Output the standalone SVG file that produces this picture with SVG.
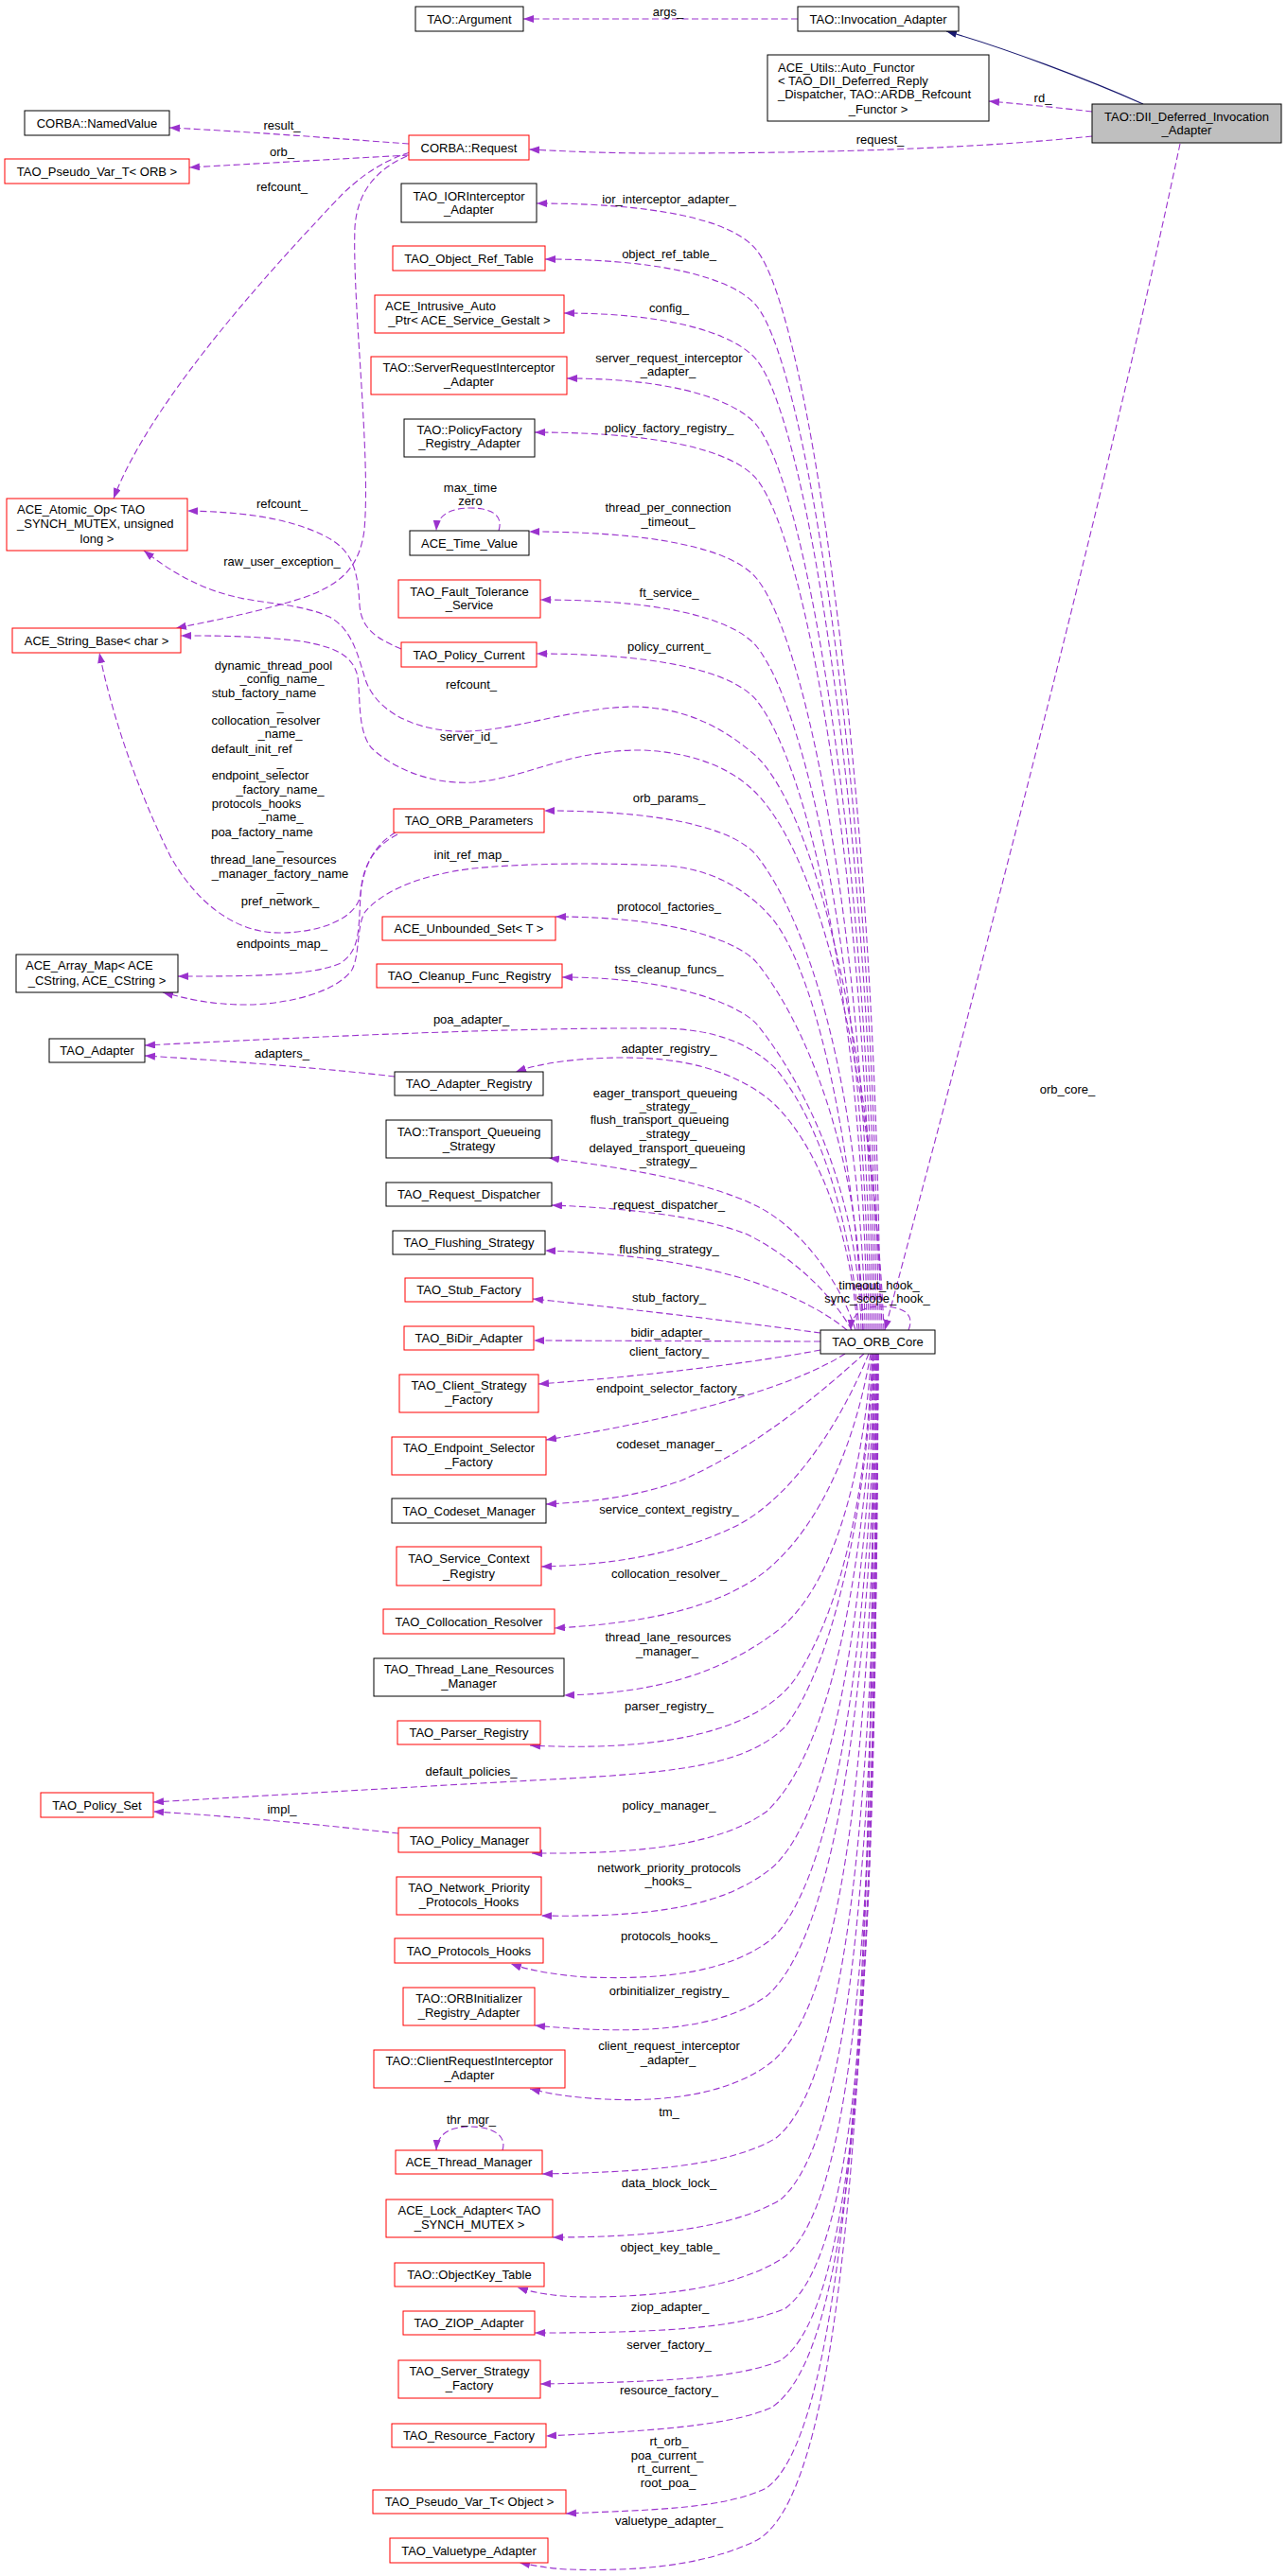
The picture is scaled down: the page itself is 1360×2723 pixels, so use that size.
<svg xmlns="http://www.w3.org/2000/svg" width="1360" height="2723" viewBox="0 0 1360 2723">
<style>
text{font-family:"Liberation Sans",Arial,Helvetica,sans-serif;font-size:13px;fill:#000}
.m{text-anchor:middle}
.k{fill:#fff;stroke:#000;stroke-width:1}
.r{fill:#fff;stroke:#f00;stroke-width:1}
.g{fill:#bfbfbf;stroke:#000;stroke-width:1}
#edges path{fill:none;stroke:#9a32cd;stroke-width:1.1;stroke-dasharray:7,3.5;marker-end:url(#a)}
#edges path.inh{stroke:#191970;stroke-dasharray:none;marker-end:url(#i)}
</style>
<defs>
<marker id="a" markerUnits="userSpaceOnUse" markerWidth="12" markerHeight="9" refX="11" refY="4" orient="auto"><path d="M0,0 L11,4 L0,8 z" fill="#9a32cd"/></marker>
<marker id="i" markerUnits="userSpaceOnUse" markerWidth="12" markerHeight="9" refX="11" refY="4" orient="auto"><path d="M0,0 L11,4 L0,8 z" fill="#191970"/></marker>
</defs>
<rect width="1360" height="2723" fill="#fff"/>
<g id="edges">
<path class="inh" d="M1208,110 C1150,84 1060,50 1000,33"/>
<path d="M843,20 L553,20"/>
<path d="M1154,118 C1120,114 1080,110 1045,107"/>
<path d="M1154,144 C1050,155 900,162 700,162 C640,162 600,160 559,158"/>
<path d="M1247,152 C1190,420 1110,750 935,1406"/>
<path d="M432,152 C350,146 260,139 179,135"/>
<path d="M432,164 C360,168 270,173 200,177"/>
<path d="M433,161 C400,172 380,188 362,205 C300,270 160,420 120,527"/>
<path d="M430,165 C400,178 378,200 375,240 C372,320 392,480 385,560 C380,600 360,618 320,632 C270,648 215,658 186,664"/>
<path d="M424,686 C398,675 382,665 380,640 C378,600 372,580 340,565 C300,546 250,541 198,540"/>
<path d="M527,561 C532,545 520,537 497,537 C475,537 462,545 461,561"/>
<path d="M932,1406 C925,1150 870,870 800,800 C760,765 720,748 670,747 C600,748 540,775 480,773 C430,770 396,748 386,718 C378,692 372,665 348,652 C318,638 275,638 245,630 C205,620 175,600 152,582"/>
<path d="M934,1406 C925,1180 875,900 790,830 C760,805 720,795 680,793 C600,792 560,822 500,827 C450,830 410,808 392,790 C378,772 381,740 378,715 C372,690 350,684 320,678 C270,672 230,672 191,672"/>
<path d="M930,1406 C927,835 855,335 800,265 C781,240 720,215 567,215"/>
<path d="M928,1406 C925,865 855,394 800,324 C781,300 720,274 576,274"/>
<path d="M926,1406 C923,893 855,451 800,381 C781,357 720,331 596,331"/>
<path d="M924,1406 C921,928 855,520 800,450 C781,426 720,400 599,400"/>
<path d="M922,1406 C919,956 855,577 800,507 C781,483 720,457 565,457"/>
<path d="M920,1406 C917,1009 855,682 800,612 C781,588 720,562 559,562"/>
<path d="M918,1406 C915,1045 855,754 800,684 C781,660 720,634 571,634"/>
<path d="M916,1406 C913,1073 855,811 800,741 C781,717 720,691 567,691"/>
<path d="M914,1406 C911,1155 855,975 800,905 C781,881 720,857 575,857"/>
<path d="M912,1406 C909,1212 847,1076 800,1018 C784,998 720,969 587,969"/>
<path d="M910,1406 C907,1244 839,1131 800,1083 C786,1066 720,1033 594,1033"/>
<path d="M418,880 C392,895 384,920 381,945 C378,970 340,986 295,986 C245,986 205,950 180,905 C150,845 120,765 105,690"/>
<path d="M420,882 C395,895 383,915 381,945 C379,985 380,1005 360,1018 C330,1032 260,1032 188,1032"/>
<path d="M912,1406 C905,1250 870,1040 817,972 C790,940 750,917 700,915 C640,912 560,912 500,918 C440,925 400,945 385,965 C377,980 380,1010 372,1025 C355,1050 300,1062 260,1062 C220,1062 195,1055 172,1049"/>
<path d="M908,1406 C900,1300 870,1190 820,1130 C790,1100 750,1088 700,1087 C550,1086 350,1095 153,1105"/>
<path d="M417,1138 C350,1130 250,1122 153,1116"/>
<path d="M906,1406 C900,1300 860,1200 810,1160 C770,1130 720,1118 660,1118 C610,1118 570,1124 545,1133"/>
<path d="M904,1406 C890,1360 850,1300 800,1275 C750,1250 670,1236 580,1224"/>
<path d="M900,1406 C880,1370 840,1330 790,1305 C740,1285 660,1277 583,1274"/>
<path d="M895,1406 C870,1385 830,1365 780,1350 C720,1333 650,1324 576,1322"/>
<path d="M867,1409 C800,1400 680,1385 563,1373"/>
<path d="M867,1418 L564,1417"/>
<path d="M867,1427 C800,1440 680,1455 569,1463"/>
<path d="M893,1431 C840,1465 720,1500 577,1522"/>
<path d="M913,1431 C870,1470 800,1530 720,1565 C670,1583 620,1588 577,1590"/>
<path d="M918,1431 C890,1500 840,1580 780,1612 C720,1642 650,1654 572,1656"/>
<path d="M920,1431 C905,1520 870,1610 810,1660 C760,1700 680,1716 586,1721"/>
<path d="M921,1431 C912,1560 880,1680 820,1725 C760,1770 690,1790 596,1792"/>
<path d="M922,1431 C915,1580 890,1700 840,1775 C800,1830 700,1852 560,1845"/>
<path d="M923,1432 C915,1600 880,1760 830,1825 C790,1865 720,1873 600,1880 C450,1888 300,1897 162,1905"/>
<path d="M421,1938 C350,1930 250,1920 162,1915"/>
<path d="M924,1431 C915,1650 880,1850 810,1915 C760,1950 680,1960 562,1959"/>
<path d="M925,1431 C916,1700 880,1920 815,1975 C765,2015 690,2027 572,2025"/>
<path d="M926,1431 C918,1750 880,1990 815,2050 C770,2085 700,2093 620,2090 C590,2088 560,2083 540,2076"/>
<path d="M927,1431 C920,1800 880,2050 810,2110 C760,2145 680,2152 565,2141"/>
<path d="M927,1431 C922,1850 890,2120 815,2180 C770,2215 700,2222 640,2219 C600,2217 580,2213 560,2208"/>
<path d="M928,1431 C925,1900 895,2200 820,2260 C770,2290 680,2296 573,2298"/>
<path d="M531,2273 C536,2257 520,2248 497,2248 C475,2248 462,2256 461,2273"/>
<path d="M928,1431 C926,1950 900,2260 825,2325 C775,2355 690,2365 584,2365"/>
<path d="M928,1431 C927,2000 905,2320 830,2385 C780,2420 690,2428 620,2428 C590,2428 565,2424 547,2418"/>
<path d="M927,1431 C927,2050 910,2380 830,2440 C780,2462 690,2466 565,2466"/>
<path d="M926,1431 C927,2100 905,2440 825,2495 C780,2515 690,2518 571,2520"/>
<path d="M925,1431 C926,2150 900,2490 815,2545 C770,2565 680,2570 577,2575"/>
<path d="M923,1431 C925,2250 880,2580 810,2630 C765,2652 690,2653 598,2657"/>
<path d="M922,1431 C925,2300 880,2640 800,2685 C740,2715 660,2718 600,2716 C580,2715 565,2712 549,2709"/>
<path d="M960,1406 C968,1386 950,1381 930,1381 C912,1381 900,1388 899,1406"/>
</g>
<g id="edge-labels" class="m">
<text x="706" y="16.5">args_</text>
<text x="1102" y="107.5">rd_</text>
<text x="930" y="151.5">request_</text>
<text x="1128" y="1155.5">orb_core_</text>
<text x="298" y="136.5">result_</text>
<text x="298" y="164.5">orb_</text>
<text x="298" y="201.5">refcount_</text>
<text x="298" y="536.5">refcount_</text>
<text x="298" y="597.5">raw_user_exception_</text>
<text x="497" y="519.5">max_time</text>
<text x="497" y="533.5">zero</text>
<text x="498" y="727.5">refcount_</text>
<text x="495" y="782.5">server_id_</text>
<text x="289" y="707.5">dynamic_thread_pool</text>
<text x="298" y="721.5">_config_name_</text>
<text x="279" y="736.5">stub_factory_name</text>
<text x="296" y="750.5">_</text>
<text x="281" y="765.5">collocation_resolver</text>
<text x="296" y="779.5">_name_</text>
<text x="266" y="795.5">default_init_ref</text>
<text x="296" y="809.5">_</text>
<text x="275" y="823.5">endpoint_selector</text>
<text x="296" y="838.5">_factory_name_</text>
<text x="271" y="853.5">protocols_hooks</text>
<text x="297" y="867.5">_name_</text>
<text x="277" y="883.5">poa_factory_name</text>
<text x="296" y="897.5">_</text>
<text x="289" y="912.5">thread_lane_resources</text>
<text x="296" y="927.5">_manager_factory_name</text>
<text x="296" y="941.5">_</text>
<text x="296" y="956.5">pref_network_</text>
<text x="498" y="907.5">init_ref_map_</text>
<text x="298" y="1001.5">endpoints_map_</text>
<text x="498" y="1081.5">poa_adapter_</text>
<text x="298" y="1117.5">adapters_</text>
<text x="498" y="1876.5">default_policies_</text>
<text x="298" y="1916.5">impl_</text>
<text x="498" y="2244.5">thr_mgr_</text>
<text x="929" y="1362.5">timeout_hook_</text>
<text x="927" y="1376.5">sync_scope_hook_</text>
<text x="707" y="214.5">ior_interceptor_adapter_</text>
<text x="707" y="272.5">object_ref_table_</text>
<text x="707" y="329.5">config_</text>
<text x="707" y="382.5">server_request_interceptor</text>
<text x="706" y="396.5">_adapter_</text>
<text x="707" y="456.5">policy_factory_registry_</text>
<text x="706" y="540.5">thread_per_connection</text>
<text x="706" y="555.5">_timeout_</text>
<text x="707" y="630.5">ft_service_</text>
<text x="707" y="687.5">policy_current_</text>
<text x="707" y="847.5">orb_params_</text>
<text x="707" y="962.5">protocol_factories_</text>
<text x="707" y="1028.5">tss_cleanup_funcs_</text>
<text x="707" y="1112.5">adapter_registry_</text>
<text x="703" y="1159.5">eager_transport_queueing</text>
<text x="706" y="1173.5">_strategy_</text>
<text x="697" y="1187.5">flush_transport_queueing</text>
<text x="706" y="1202.5">_strategy_</text>
<text x="705" y="1217.5">delayed_transport_queueing</text>
<text x="706" y="1231.5">_strategy_</text>
<text x="707" y="1277.5">request_dispatcher_</text>
<text x="707" y="1324.5">flushing_strategy_</text>
<text x="707" y="1375.5">stub_factory_</text>
<text x="708" y="1412.5">bidir_adapter_</text>
<text x="707" y="1432.5">client_factory_</text>
<text x="708" y="1471.5">endpoint_selector_factory_</text>
<text x="707" y="1530.5">codeset_manager_</text>
<text x="707" y="1599.5">service_context_registry_</text>
<text x="707" y="1667.5">collocation_resolver_</text>
<text x="706" y="1734.5">thread_lane_resources</text>
<text x="705" y="1749.5">_manager_</text>
<text x="707" y="1807.5">parser_registry_</text>
<text x="707" y="1912.5">policy_manager_</text>
<text x="707" y="1978.5">network_priority_protocols</text>
<text x="706" y="1992.5">_hooks_</text>
<text x="707" y="2050.5">protocols_hooks_</text>
<text x="707" y="2108.5">orbinitializer_registry_</text>
<text x="707" y="2166.5">client_request_interceptor</text>
<text x="706" y="2181.5">_adapter_</text>
<text x="707" y="2236.5">tm_</text>
<text x="707" y="2311.5">data_block_lock_</text>
<text x="708" y="2379.5">object_key_table_</text>
<text x="708" y="2442.5">ziop_adapter_</text>
<text x="707" y="2482.5">server_factory_</text>
<text x="707" y="2530.5">resource_factory_</text>
<text x="707" y="2584.5">rt_orb_</text>
<text x="705" y="2599.5">poa_current_</text>
<text x="705" y="2613.5">rt_current_</text>
<text x="706" y="2628.5">root_poa_</text>
<text x="707" y="2668.5">valuetype_adapter_</text>
</g>
<g id="n_argument"><rect class="k" x="439" y="7" width="114" height="26"/><text class="m" x="496" y="24.5">TAO::Argument</text></g>
<g id="n_invocation_adapter"><rect class="k" x="843" y="7" width="170" height="26"/><text class="m" x="928" y="24.5">TAO::Invocation_Adapter</text></g>
<g id="n_auto_functor"><rect class="k" x="811" y="58" width="234" height="70"/><text x="822" y="75.5">ACE_Utils::Auto_Functor</text><text x="822" y="89.5">&lt; TAO_DII_Deferred_Reply</text><text x="822" y="103.5">_Dispatcher, TAO::ARDB_Refcount</text><text class="m" x="928" y="119.5">_Functor &gt;</text></g>
<g id="n_dii"><rect class="g" x="1154" y="110" width="200" height="41"/><text class="m" x="1254" y="127.5">TAO::DII_Deferred_Invocation</text><text class="m" x="1254" y="141.5">_Adapter</text></g>
<g id="n_namedvalue"><rect class="k" x="26" y="117" width="153" height="26"/><text class="m" x="102.5" y="134.5">CORBA::NamedValue</text></g>
<g id="n_request"><rect class="r" x="432" y="143" width="127" height="26"/><text class="m" x="495.5" y="160.5">CORBA::Request</text></g>
<g id="n_pseudo_orb"><rect class="r" x="5" y="168" width="195" height="26"/><text class="m" x="102.5" y="185.5">TAO_Pseudo_Var_T&lt; ORB &gt;</text></g>
<g id="n_ior"><rect class="k" x="424" y="194" width="143" height="41"/><text class="m" x="495.5" y="211.5">TAO_IORInterceptor</text><text class="m" x="495.5" y="225.5">_Adapter</text></g>
<g id="n_object_ref_table"><rect class="r" x="415" y="260" width="161" height="26"/><text class="m" x="495.5" y="277.5">TAO_Object_Ref_Table</text></g>
<g id="n_intrusive"><rect class="r" x="396" y="312" width="200" height="40"/><text x="407" y="327.5">ACE_Intrusive_Auto</text><text class="m" x="496" y="342.5">_Ptr&lt; ACE_Service_Gestalt &gt;</text></g>
<g id="n_server_req"><rect class="r" x="392" y="377" width="207" height="40"/><text class="m" x="495.5" y="392.5">TAO::ServerRequestInterceptor</text><text class="m" x="495.5" y="407.5">_Adapter</text></g>
<g id="n_policy_factory"><rect class="k" x="427" y="443" width="138" height="40"/><text class="m" x="496" y="458.5">TAO::PolicyFactory</text><text class="m" x="496" y="472.5">_Registry_Adapter</text></g>
<g id="n_atomic_op"><rect class="r" x="7" y="527" width="191" height="55"/><text x="18" y="542.5">ACE_Atomic_Op&lt; TAO</text><text x="18" y="557.5">_SYNCH_MUTEX, unsigned</text><text class="m" x="102.5" y="573.5">long &gt;</text></g>
<g id="n_time_value"><rect class="k" x="433" y="561" width="126" height="26"/><text class="m" x="496" y="578.5">ACE_Time_Value</text></g>
<g id="n_fault"><rect class="r" x="421" y="613" width="150" height="40"/><text class="m" x="496" y="629.5">TAO_Fault_Tolerance</text><text class="m" x="496" y="643.5">_Service</text></g>
<g id="n_string_base"><rect class="r" x="13" y="664" width="178" height="26"/><text class="m" x="102" y="681.5">ACE_String_Base&lt; char &gt;</text></g>
<g id="n_policy_current"><rect class="r" x="424" y="679" width="143" height="26"/><text class="m" x="495.5" y="696.5">TAO_Policy_Current</text></g>
<g id="n_orb_parameters"><rect class="r" x="416" y="855" width="159" height="25"/><text class="m" x="495.5" y="872">TAO_ORB_Parameters</text></g>
<g id="n_unbounded_set"><rect class="r" x="404" y="969" width="183" height="25"/><text class="m" x="495.5" y="986">ACE_Unbounded_Set&lt; T &gt;</text></g>
<g id="n_array_map"><rect class="k" x="17" y="1009" width="171" height="40"/><text x="27" y="1024.5">ACE_Array_Map&lt; ACE</text><text class="m" x="102.5" y="1040.5">_CString, ACE_CString &gt;</text></g>
<g id="n_cleanup"><rect class="r" x="398" y="1019" width="196" height="25"/><text class="m" x="496" y="1036">TAO_Cleanup_Func_Registry</text></g>
<g id="n_adapter"><rect class="k" x="52" y="1098" width="101" height="25"/><text class="m" x="102.5" y="1115">TAO_Adapter</text></g>
<g id="n_adapter_registry"><rect class="k" x="417" y="1133" width="157" height="25"/><text class="m" x="495.5" y="1150">TAO_Adapter_Registry</text></g>
<g id="n_transport_qs"><rect class="k" x="408" y="1184" width="175" height="40"/><text class="m" x="495.5" y="1200.5">TAO::Transport_Queueing</text><text class="m" x="495.5" y="1215.5">_Strategy</text></g>
<g id="n_request_dispatcher"><rect class="k" x="408" y="1250" width="175" height="25"/><text class="m" x="495.5" y="1267">TAO_Request_Dispatcher</text></g>
<g id="n_flushing"><rect class="k" x="415" y="1301" width="161" height="25"/><text class="m" x="495.5" y="1318">TAO_Flushing_Strategy</text></g>
<g id="n_stub_factory"><rect class="r" x="428" y="1351" width="135" height="25"/><text class="m" x="495.5" y="1368">TAO_Stub_Factory</text></g>
<g id="n_bidir"><rect class="r" x="427" y="1402" width="137" height="25"/><text class="m" x="495.5" y="1419">TAO_BiDir_Adapter</text></g>
<g id="n_orb_core"><rect class="k" x="867" y="1406" width="121" height="25"/><text class="m" x="927.5" y="1423">TAO_ORB_Core</text></g>
<g id="n_client_strategy"><rect class="r" x="422" y="1453" width="147" height="40"/><text class="m" x="495.5" y="1468.5">TAO_Client_Strategy</text><text class="m" x="495.5" y="1483.5">_Factory</text></g>
<g id="n_endpoint_selector"><rect class="r" x="414" y="1519" width="163" height="40"/><text class="m" x="495.5" y="1534.5">TAO_Endpoint_Selector</text><text class="m" x="495.5" y="1549.5">_Factory</text></g>
<g id="n_codeset"><rect class="k" x="414" y="1584" width="163" height="26"/><text class="m" x="495.5" y="1601.5">TAO_Codeset_Manager</text></g>
<g id="n_service_context"><rect class="r" x="419" y="1635" width="153" height="41"/><text class="m" x="495.5" y="1651.5">TAO_Service_Context</text><text class="m" x="495.5" y="1667.5">_Registry</text></g>
<g id="n_collocation"><rect class="r" x="405" y="1701" width="181" height="26"/><text class="m" x="495.5" y="1718.5">TAO_Collocation_Resolver</text></g>
<g id="n_thread_lane"><rect class="k" x="395" y="1753" width="201" height="40"/><text class="m" x="495.5" y="1768.5">TAO_Thread_Lane_Resources</text><text class="m" x="495.5" y="1783.5">_Manager</text></g>
<g id="n_parser"><rect class="r" x="420" y="1819" width="151" height="25"/><text class="m" x="495.5" y="1836">TAO_Parser_Registry</text></g>
<g id="n_policy_set"><rect class="r" x="43" y="1895" width="119" height="26"/><text class="m" x="102.5" y="1912.5">TAO_Policy_Set</text></g>
<g id="n_policy_manager"><rect class="r" x="421" y="1932" width="150" height="26"/><text class="m" x="496" y="1949.5">TAO_Policy_Manager</text></g>
<g id="n_npp"><rect class="r" x="419" y="1984" width="153" height="40"/><text class="m" x="495.5" y="1999.5">TAO_Network_Priority</text><text class="m" x="495.5" y="2014.5">_Protocols_Hooks</text></g>
<g id="n_protocols_hooks"><rect class="r" x="417" y="2049" width="157" height="26"/><text class="m" x="495.5" y="2066.5">TAO_Protocols_Hooks</text></g>
<g id="n_orbinit"><rect class="r" x="426" y="2101" width="139" height="40"/><text class="m" x="495.5" y="2116.5">TAO::ORBInitializer</text><text class="m" x="495.5" y="2131.5">_Registry_Adapter</text></g>
<g id="n_client_req"><rect class="r" x="395" y="2167" width="202" height="40"/><text class="m" x="496" y="2182.5">TAO::ClientRequestInterceptor</text><text class="m" x="496" y="2197.5">_Adapter</text></g>
<g id="n_thread_manager"><rect class="r" x="418" y="2273" width="155" height="25"/><text class="m" x="495.5" y="2290">ACE_Thread_Manager</text></g>
<g id="n_lock_adapter"><rect class="r" x="408" y="2325" width="176" height="40"/><text class="m" x="496" y="2340.5">ACE_Lock_Adapter&lt; TAO</text><text class="m" x="496" y="2355.5">_SYNCH_MUTEX &gt;</text></g>
<g id="n_objectkey"><rect class="r" x="417" y="2392" width="158" height="25"/><text class="m" x="496" y="2409">TAO::ObjectKey_Table</text></g>
<g id="n_ziop"><rect class="r" x="426" y="2443" width="139" height="25"/><text class="m" x="495.5" y="2460">TAO_ZIOP_Adapter</text></g>
<g id="n_server_strategy"><rect class="r" x="421" y="2495" width="150" height="40"/><text class="m" x="496" y="2510.5">TAO_Server_Strategy</text><text class="m" x="496" y="2525.5">_Factory</text></g>
<g id="n_resource_factory"><rect class="r" x="414" y="2562" width="163" height="25"/><text class="m" x="495.5" y="2579">TAO_Resource_Factory</text></g>
<g id="n_pseudo_object"><rect class="r" x="394" y="2632" width="204" height="25"/><text class="m" x="496" y="2649">TAO_Pseudo_Var_T&lt; Object &gt;</text></g>
<g id="n_valuetype"><rect class="r" x="412" y="2683" width="167" height="26"/><text class="m" x="495.5" y="2700.5">TAO_Valuetype_Adapter</text></g>
</svg>
